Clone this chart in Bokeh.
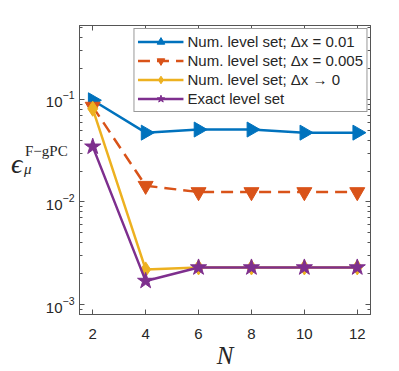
import math
from bokeh.plotting import figure
from bokeh.models import (Legend, LegendItem, FixedTicker, LogTicker, Range1d, ColumnDataSource, Div,
                          LinearAxis, LogAxis)
from bokeh.layouts import column
from bokeh.embed import file_html
from bokeh.resources import INLINE

N = [2, 4, 6, 8, 10, 12]
num_dx001 = [0.098, 0.0474, 0.0508, 0.0508, 0.0474, 0.0474]
num_dx0005 = [0.085, 0.0144, 0.0125, 0.0125, 0.0125, 0.0125]
num_dx0 = [0.081, 0.0022, 0.0023, 0.0023, 0.0023, 0.0023]
exact = [0.0346, 0.0017, 0.0023, 0.0023, 0.0023, 0.0023]

labels = ["Num. level set; \u0394x = 0.01", "Num. level set; \u0394x = 0.005",
          "Num. level set; \u0394x \u2192 0", "Exact level set"]
colors = ["#0072BD", "#D95319", "#EDB120", "#7E2F8E"]
x_ticks = [2, 4, 6, 8, 10, 12]

AX = "#555555"
TXT = "#262626"
FONT = "Liberation Sans"
W, H = 391, 371

p = figure(width=W, height=H, output_backend="svg", toolbar_location=None,
           y_axis_type="log", x_range=Range1d(1.5, 12.5), y_range=Range1d(8.0e-4, 0.525),
           min_border_left=79, min_border_right=21, min_border_top=25, min_border_bottom=56)
p.xgrid.visible = False
p.ygrid.visible = False
p.outline_line_color = AX
p.outline_line_width = 1

series = [num_dx001, num_dx0005, num_dx0, exact]
markers = ["triangle", "inverted_triangle", "diamond", "star"]
angles = [-90, 0, 0, 0]
sizes = [15, 15, 15, 17]
dashes = ["solid", "12 7", "solid", "solid"]
items = []
for s, c, m, a, sz, d, lab in zip(series, colors, markers, angles, sizes, dashes, labels):
    src = ColumnDataSource(dict(x=N, y=s, ang=[a] * len(N)))
    ln = p.line("x", "y", source=src, line_color=c, line_width=2.5, line_dash=d)
    sc = p.scatter("x", "y", source=src, marker=m, size=sz, angle="ang", angle_units="deg",
                   fill_color=c, line_color=c)
    items.append(LegendItem(label=lab, renderers=[ln, sc], index=0))

xa = p.xaxis[0]
xa.ticker = FixedTicker(ticks=x_ticks)
xa.axis_label = "N"
xa.axis_label_text_font = "Liberation Serif"
xa.axis_label_text_font_style = "italic"
xa.axis_label_text_font_size = "25px"
xa.axis_label_text_color = TXT
xa.axis_label_standoff = 0
xa.major_label_standoff = 14

ya = p.yaxis[0]
ya.ticker = LogTicker(num_minor_ticks=10)

# box ticks on top and right (no labels)
xtop = LinearAxis(ticker=FixedTicker(ticks=x_ticks), major_label_text_color=None,
                  major_label_text_font_size="1px", major_label_standoff=0)
yright = LogAxis(ticker=LogTicker(num_minor_ticks=10), major_label_text_color=None,
                 major_label_text_font_size="1px", major_label_standoff=0)
p.add_layout(xtop, "above")
p.add_layout(yright, "right")

for ax in [xa, ya, xtop, yright]:
    ax.axis_line_color = AX
    ax.major_tick_line_color = AX
    ax.minor_tick_line_color = AX
    ax.major_tick_in = 5
    ax.major_tick_out = 0
    ax.minor_tick_in = 3
    ax.minor_tick_out = 0

for ax in [xa, ya]:
    ax.major_label_text_font = FONT
    ax.major_label_text_font_size = "15px"
    ax.major_label_text_color = TXT

xa.minor_tick_line_color = None
xtop.minor_tick_line_color = None

legend = Legend(items=items, location="top_right", margin=3, padding=3, spacing=0,
                label_text_font=FONT, label_text_font_size="15px", label_text_color=TXT,
                glyph_width=46, glyph_height=19, label_height=19,
                border_line_color="#333333", border_line_width=1,
                background_fill_alpha=1.0, label_standoff=4)
p.add_layout(legend)

ylabel_html = (
    '<div style="position:relative;width:70px;height:40px;color:#262626;'
    'font-family:\'Liberation Serif\',\'DejaVu Serif\',serif;">'
    '<span style="position:absolute;left:6px;top:1px;font-size:28px;font-style:italic;line-height:1;">\u03f5</span>'
    '<span style="position:absolute;left:20px;top:-5px;font-size:15px;line-height:1;white-space:nowrap;">F\u2212gPC</span>'
    '<span style="position:absolute;left:19px;top:13px;font-size:15px;font-style:italic;line-height:1;">\u03bc</span>'
    '</div>'
)
ylabel = Div(text=ylabel_html, width=70, height=40,
             styles={"position": "absolute", "left": "0px", "top": "144px", "z-index": "10"})

layout = column(p, ylabel)
open("out.html", "w").write(file_html(layout, INLINE))
